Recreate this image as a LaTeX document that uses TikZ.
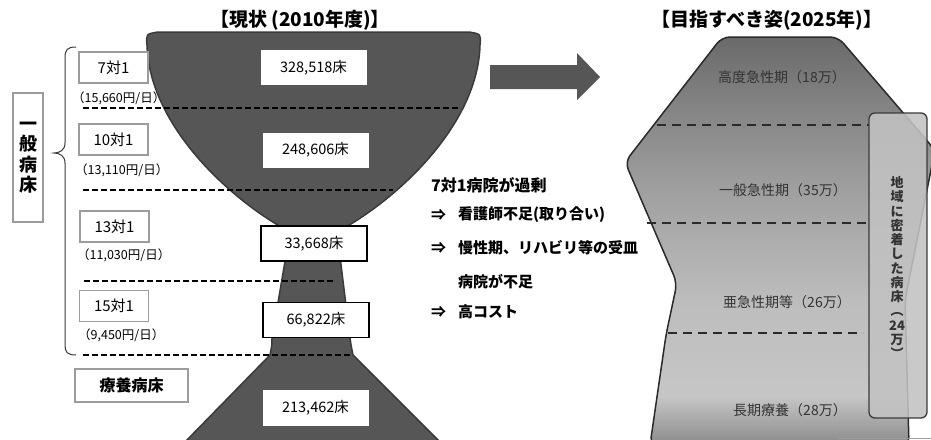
\documentclass[tikz,border=0pt]{standalone}
\usepackage{fontspec}
\setmainfont{Noto Sans CJK JP}
\definecolor{gob}{HTML}{565656}
\definecolor{gobline}{HTML}{3A3A3A}
\definecolor{boxgray}{HTML}{9C9C9C}
\definecolor{rline}{HTML}{2A2A2A}
\definecolor{rtext}{HTML}{333333}
\definecolor{rs0}{HTML}{8A8A8A}
\definecolor{rs1}{HTML}{C6C6C6}
\definecolor{rs2}{HTML}{BDBDBD}
\definecolor{rs3}{HTML}{A0A0A0}
\definecolor{rs4}{HTML}{858585}
\definecolor{rs5}{HTML}{6A6A6A}
\definecolor{vbfill}{HTML}{C2C2C2}
\pgfdeclareverticalshading{rshade}{100bp}{color(0bp)=(rs0); color(25bp)=(rs0); color(31bp)=(rs1); color(42.5bp)=(rs2); color(56bp)=(rs3); color(66bp)=(rs4); color(75bp)=(rs5); color(100bp)=(rs5)}
\tikzset{
  numbox/.style={fill=white, minimum width=106pt, minimum height=35pt, inner sep=0pt, font=\fontsize{14.5}{16}\selectfont},
  numboxb/.style={numbox, draw=black, line width=1.3pt},
  gradebox/.style={draw=boxgray, line width=1.6pt, fill=white, minimum width=69pt, minimum height=31pt, inner sep=0pt, font=\fontsize{15}{17}\selectfont},
  price/.style={anchor=west, inner sep=0pt, font=\fontsize{12.5}{14}\selectfont},
  lvline/.style={dash pattern=on 6pt off 3pt, line width=2pt, black},
  rvline/.style={dash pattern=on 9pt off 6pt, line width=2pt, rline},
  brk/.style={draw=gobline, line width=1pt},
  midtxt/.style={anchor=west, inner sep=0pt, font=\fontsize{15}{17}\selectfont\bfseries},
  rlabel/.style={text=rtext, inner sep=0pt, font=\fontsize{14}{16}\selectfont},
  titletxt/.style={inner sep=0pt, font=\fontsize{19}{21}\selectfont\bfseries}
}
\begin{document}
\begin{tikzpicture}[x=1pt,y=-1pt]
\useasboundingbox (0,0) rectangle (931,439);
\clip (0,0) rectangle (931,439);
\fill[white] (0,0) rectangle (931,439);

% titles
\node[titletxt] (title1) at (300,20) {【現状 (2010年度)】};
\node[titletxt] (title2) at (767,20) {【目指すべき姿(2025年)】};

% goblet
\path[fill=gob, draw=gobline, line width=1.5pt]
  (147,45) .. controls (146,34) .. (158,32) -- (469,32)
  .. controls (481,34) .. (480,45)
  .. controls (478,125) and (397,200) .. (337,232)
  -- (350,338) .. controls (351,345) .. (353,355)
  -- (440,442) -- (185,442) -- (270,355)
  .. controls (272,345) .. (272,338) -- (290,232)
  .. controls (230,200) and (149,125) .. (147,45) -- cycle;

% dashed separators (left)
\draw[lvline] (83,108) -- (460,108);
\draw[lvline] (83,190) -- (393,190);
\draw[lvline] (84,281) -- (335,281);
\draw[lvline] (83,355) -- (352,355);

% number boxes
\node[numbox] (n1) at (313.5,67.5) {328,518床};
\node[numbox] (n2) at (315.5,150) {248,606床};
\node[numboxb] (n3) at (314,243.5) {33,668床};
\node[numboxb] (n4) at (316,320) {66,822床};
\node[numbox, minimum height=36pt] (n5) at (315.5,408) {213,462床};

% general beds box
\node[draw=boxgray, line width=1.5pt, fill=white, minimum width=30pt, minimum height=129pt, inner sep=0pt] (ippan) at (28,157.5) {};
\node[inner sep=0pt, align=center, font=\fontsize{18}{20.3}\selectfont\bfseries] (ippantxt) at (28,157.5) {一\\般\\病\\床};

% brace
\draw[brk] (76,47) .. controls (67,47) and (65,50) .. (65,58) -- (65,143)
  .. controls (65,150) and (60,153) .. (54,153)
  .. controls (60,153) and (65,156) .. (65,163) -- (65,345)
  .. controls (65,352) and (67,355) .. (76,355);

% grade boxes
\node[gradebox] (g1) at (113.5,67.5) {7対1};
\node[price] (p1) at (72,98) {（15,660円/日）};
\node[gradebox] (g2) at (113.5,139.5) {10対1};
\node[price] (p2) at (75,170) {（13,110円/日）};
\node[gradebox] (g3) at (114.5,226.5) {13対1};
\node[price] (p3) at (77,255) {（11,030円/日）};
\node[gradebox] (g4) at (114,306) {15対1};
\node[price] (p4) at (78,335) {（9,450円/日）};
\node[gradebox, minimum width=113pt, minimum height=33pt, font=\fontsize{16}{18}\selectfont\bfseries] (ryo) at (131.5,385.5) {療養病床};

% big arrow
\path[fill=gob] (490,65) -- (577,65) -- (577,53) -- (600,77) -- (577,100) -- (577,89) -- (490,89) -- cycle;

% middle text
\node[midtxt, font=\fontsize{16}{18}\selectfont\bfseries] (m0) at (431,185) {7対1病院が過剰};
\node[midtxt] (m1a) at (431,215) {⇒};
\node[midtxt] (m1) at (458,215) {看護師不足(取り合い)};
\node[midtxt] (m2a) at (431,248) {⇒};
\node[midtxt] (m2) at (458,248) {慢性期、リハビリ等の受皿};
\node[midtxt] (m3) at (458,282) {病院が不足};
\node[midtxt] (m4a) at (431,312) {⇒};
\node[midtxt] (m4) at (458,312) {高コスト};

% right shape
\shade[shading=rshade, draw=rline, line width=1.5pt, rounded corners=8pt]
  (650,445) -- (666,335) -- (677,283) -- (625,162) -- (722,37) -- (838,37)
  -- (935,150) -- (905,300) -- (909,445) -- cycle;

\draw[rvline] (657,125) -- (869,125);
\draw[rvline] (647,223) -- (869,223);
\draw[rvline] (668,333) -- (863,333);

\node[rlabel] (r1) at (782,77) {高度急性期（18万）};
\node[rlabel] (r2) at (783,190) {一般急性期（35万）};
\node[rlabel] (r3) at (787,302) {亜急性期等（26万）};
\node[rlabel] (r4) at (790,410) {長期療養（28万）};

% vertical box
\node[draw=gobline, line width=1.3pt, fill=vbfill, fill opacity=0.88, rounded corners=6pt, minimum width=58pt, minimum height=305pt, inner sep=0pt] (vb) at (898,265.5) {};
\node[inner sep=0pt, align=center, text=rtext, font=\fontsize{13}{14.25}\selectfont\bfseries] (vbtxt) at (897,267.5) {地\\域\\に\\密\\着\\し\\た\\病\\床\\︵\\24\\万\\︶};

\draw[boxgray, line width=1pt] (838,438.5) -- (931,438.5);
\end{tikzpicture}
\end{document}
